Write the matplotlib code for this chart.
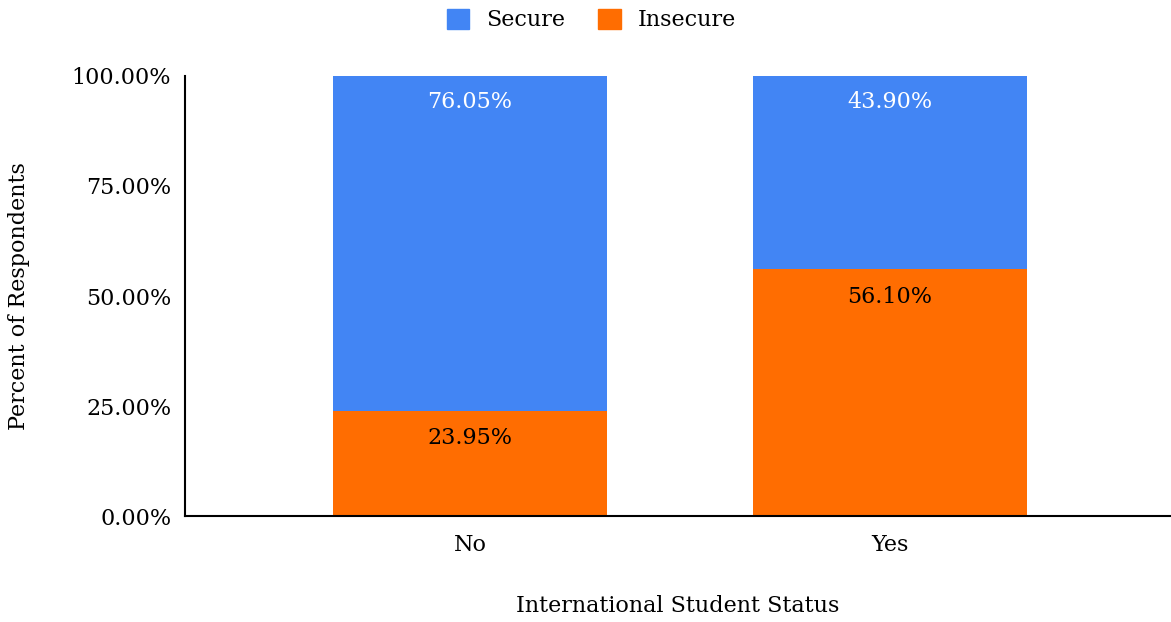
import matplotlib.pyplot as plt
from matplotlib.patches import Patch

plt.rcParams['font.family'] = ['DejaVu Serif']

categories = ['No', 'Yes']
insecure = [23.95, 56.10]
secure = [76.05, 43.90]

blue = '#4285F4'
orange = '#FF6D01'

fig = plt.figure(figsize=(11.71, 6.22), dpi=100)
ax = fig.add_axes([0.158, 0.170, 0.841, 0.708])

x = list(range(len(categories)))
w = 0.652
ax.bar(x, insecure, width=w, color=orange, label='Insecure')
ax.bar(x, secure, width=w, bottom=insecure, color=blue, label='Secure')

# value labels just under the top edge of each segment
for i in x:
    top_ins = insecure[i]
    top_sec = insecure[i] + secure[i]
    ax.annotate(f'{secure[i]:.2f}%', (i, top_sec), xytext=(0, -11),
                textcoords='offset points', ha='center', va='top',
                fontsize=16, color='white')
    ax.annotate(f'{insecure[i]:.2f}%', (i, top_ins), xytext=(0, -12),
                textcoords='offset points', ha='center', va='top',
                fontsize=16, color='black')

ax.set_xlim(-0.679, 1.667)
ax.set_ylim(0, 100)
ax.set_yticks([0, 25, 50, 75, 100])
ax.set_yticklabels([f'{v:.2f}%' for v in [0, 25, 50, 75, 100]])
ax.set_xticks(x)
ax.set_xticklabels(categories)
ax.tick_params(axis='both', length=0, labelsize=16, pad=10)
ax.tick_params(axis='x', pad=13)

for s in ['top', 'right']:
    ax.spines[s].set_visible(False)
ax.spines['left'].set_linewidth(1.5)
ax.spines['bottom'].set_linewidth(1.5)

ax.set_ylabel('Percent of Respondents', fontsize=16, labelpad=30)
ax.set_xlabel('International Student Status', fontsize=16, labelpad=28)

handles = [Patch(color=blue, label='Secure'), Patch(color=orange, label='Insecure')]
fig.legend(handles=handles, loc='upper center', bbox_to_anchor=(0.505, 1.018),
           ncol=2, frameon=False, fontsize=16, handlelength=1.0,
           handleheight=1.0, columnspacing=1.5, handletextpad=0.75)

fig.savefig('out.png', dpi=100)
